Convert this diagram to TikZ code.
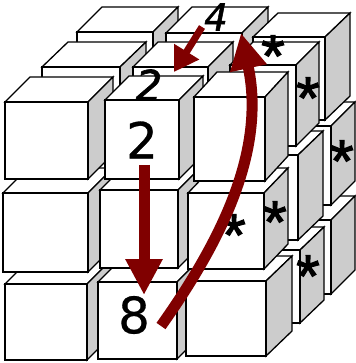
\documentclass[tikz,border=0pt]{standalone}
\usepackage{fontspec}
\setmainfont{DejaVu Sans}
\newfontfamily\starfont{Liberation Sans}[BoldFont=*]
\usetikzlibrary{arrows.meta}
\definecolor{arrowred}{HTML}{800000}
\definecolor{sidegrey}{HTML}{CCCCCC}
\newcommand{\mycube}[6]{%
  \fill[white] (#1,#2) rectangle (#3,#4);
  \draw[cubeline,fill=white] (#1,#2) -- ++(#5,-#6) -- ++(#3-#1,0) -- (#3,#2) -- cycle;
  \draw[cubeline,fill=sidegrey] (#3,#2) -- ++(#5,-#6) -- ++(0,#4-#2) -- (#3,#4) -- cycle;
  \draw[cubeline,fill=white] (#1,#2) rectangle (#3,#4);
}
\tikzset{
  cubeline/.style={draw=black,line width=1.3pt,line join=miter},
  bigdigit/.style={inner sep=0pt,font=\fontsize{50}{50}\selectfont\addfontfeature{FakeBold=0.6}},
  topdigit/.style={inner sep=0pt,font=\fontsize{42}{42}\itshape\selectfont\addfontfeature{FakeBold=1.5}},
  topfour/.style={inner sep=0pt,font=\fontsize{37}{37}\itshape\selectfont\addfontfeature{FakeBold=1.5}},
  starmark/.style={inner sep=0pt,font=\starfont\fontsize{60}{60}\selectfont\addfontfeature{FakeBold=2}},
  bigarrow/.style={draw=arrowred,line width=11pt,-{Triangle[length=36pt,width=35pt]}},
  smallarrow/.style={draw=arrowred,line width=7pt,-{Triangle[length=24pt,width=28pt]}}
}
\begin{document}
\begin{tikzpicture}[x=1pt,y=-1pt]
\useasboundingbox (0,0) rectangle (355,363);
% back layer
\mycube{77}{218}{152}{294}{25}{25}
\mycube{165}{218}{240}{294}{25}{25}
\mycube{258}{220}{331}{294}{24}{24}
\mycube{76}{125}{152}{200}{25}{25}
\mycube{165}{125}{240}{205}{25}{25}
\mycube{258}{126}{331}{205}{24}{24}
\mycube{77}{32}{153}{108}{25}{25}
\mycube{166}{33}{242}{110}{26}{26}
\mycube{253}{37}{325}{120}{25}{24}
% middle layer
\mycube{42}{250}{120}{325}{25}{25}
\mycube{133}{250}{208}{325}{25}{25}
\mycube{227}{250}{300}{323}{24}{23}
\mycube{42}{155}{120}{235}{25}{25}
\mycube{133}{155}{208}{235}{25}{25}
\mycube{225}{155}{298}{240}{25}{24}
\mycube{42}{67}{120}{145}{26}{25}
\mycube{133}{67}{208}{145}{25}{25}
\mycube{230}{65}{296}{146}{23}{23}
% front layer
\mycube{5}{284}{87}{360}{25}{25}
\mycube{98}{282}{177}{359}{25}{25}
\mycube{186}{281}{266}{356}{26}{25}
\mycube{3}{193}{88}{272}{25}{25}
\mycube{100}{190}{178}{268}{25}{25}
\mycube{188}{193}{264}{269}{24}{25}
\mycube{5}{102}{88}{179}{25}{25}
\mycube{105}{100}{179}{179}{24}{24}
\mycube{194}{97}{265}{181}{23}{25}
% labels
\node[bigdigit] (two) at (142,140) {2};
\node[bigdigit] (eight) at (134,315) {8};
\node[topdigit] (twotop) at (149,85) {2};
\node[topfour] (four) at (216,17) {4};
\node[starmark] (s1) at (273,56) {*};
\node[starmark] (s2) at (308,98) {*};
\node[starmark] (s3) at (342,161) {*};
\node[starmark] (s4) at (234,235) {*};
\node[starmark] (s5) at (275,222) {*};
\node[starmark] (s6) at (308,276) {*};
% arrows
\coordinate (a1s) at (144,165);
\coordinate (a1e) at (144,295);
\coordinate (a2s) at (202,27);
\coordinate (a2e) at (174,72);
\coordinate (a3s) at (161,326);
\coordinate (a3e) at (241,33);
\draw[bigarrow] (a1s) -- (a1e);
\draw[smallarrow] (a2s) -- (a2e);
\draw[bigarrow] (a3s) .. controls (222,240) and (266,150) .. (a3e);
\end{tikzpicture}
\end{document}
